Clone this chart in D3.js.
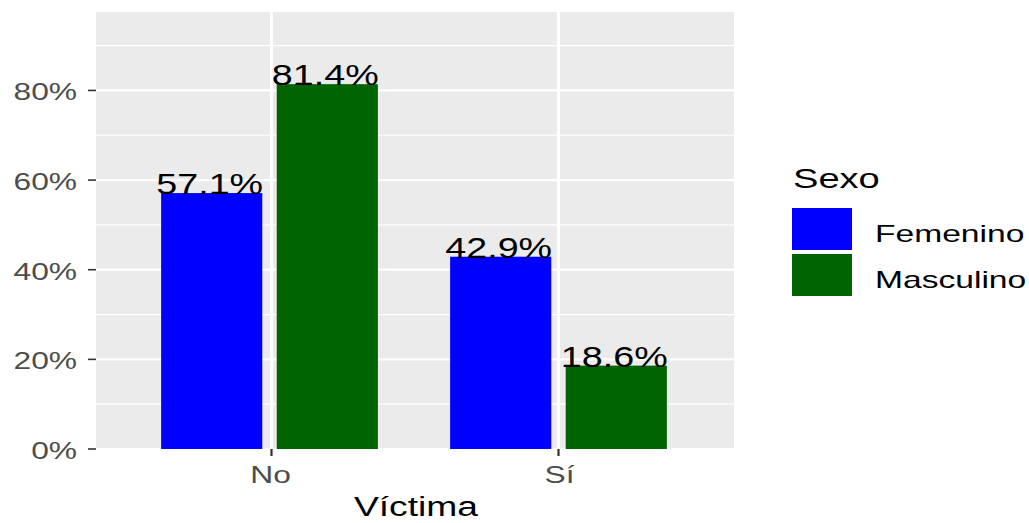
<!DOCTYPE html>
<html>
<head>
<meta charset="utf-8">
<script src="https://cdn.jsdelivr.net/npm/d3@7"></script>
<style>
  body { margin: 0; background: #fff; }
  text { font-family: "Liberation Sans", Arial, sans-serif; }
</style>
</head>
<body>
<div id="chart"></div>
<script>
// data
var categories = ["No", "Sí"];
var groups = ["Femenino", "Masculino"];
var femenino = [0.571, 0.429];
var masculino = [0.814, 0.186];
var labels = [["57.1%", "42.9%"], ["81.4%", "18.6%"]];
var yTicks = [0, 0.2, 0.4, 0.6, 0.8];
var yMinor = [0.1, 0.3, 0.5, 0.7, 0.9];
var colors = ["#0000ff", "#006400"];

var svgWidth = 1029, svgHeight = 523;
var panel = {left: 96, right: 734, top: 12, bottom: 449};
var stretch = 1.38; // the picture is wider than tall

var svg = d3.select("#chart")
  .append("svg")
  .attr("width", svgWidth)
  .attr("height", svgHeight);

var yScale = d3.scaleLinear()
  .domain([0, 0.975])
  .range([panel.bottom, panel.top]);

// category index -> pixel
var xScale = d3.scaleLinear()
  .domain([1, 2])
  .range([269.5, 558.5]);
var unit = xScale(2) - xScale(1);

// grey panel
svg.append("rect")
  .attr("x", panel.left).attr("y", panel.top)
  .attr("width", panel.right - panel.left)
  .attr("height", panel.bottom - panel.top)
  .attr("fill", "#ebebeb");

// grid
svg.selectAll(".minor").data(yMinor).enter()
  .append("line")
  .attr("x1", panel.left).attr("x2", panel.right)
  .attr("y1", d => yScale(d)).attr("y2", d => yScale(d))
  .attr("stroke", "#fff").attr("stroke-width", 1.2);
svg.selectAll(".major").data(yTicks).enter()
  .append("line")
  .attr("x1", panel.left).attr("x2", panel.right)
  .attr("y1", d => yScale(d)).attr("y2", d => yScale(d))
  .attr("stroke", "#fff").attr("stroke-width", 2.2);
svg.selectAll(".vgrid").data(categories).enter()
  .append("line")
  .attr("x1", (d, i) => xScale(i + 1) + (i === 0 ? 2 : 0)).attr("x2", (d, i) => xScale(i + 1) + (i === 0 ? 2 : 0))
  .attr("y1", panel.top).attr("y2", panel.bottom)
  .attr("stroke", "#fff").attr("stroke-width", 3);

// bars
var series = [femenino, masculino];
var barW = 0.35 * unit;
series.forEach(function(vals, s) {
  var off = (s === 0 ? -0.2 : 0.2) * unit;
  svg.selectAll(".bar" + s).data(vals).enter()
    .append("rect")
    .attr("x", (d, i) => xScale(i + 1) + off - barW / 2)
    .attr("y", d => yScale(d))
    .attr("width", barW)
    .attr("height", d => yScale(0) - yScale(d))
    .attr("fill", colors[s]);
  svg.selectAll(".lab" + s).data(vals).enter()
    .append("text")
    .attr("transform", (d, i) => "translate(" + (xScale(i + 1) + off - 2) + "," + (yScale(d) + 1) + ") scale(1.3,1)")
    .attr("text-anchor", "middle")
    .attr("font-size", 29)
    .attr("fill", "#000")
    .text((d, i) => labels[s][i]);
});

// y axis ticks + labels
var yAx = svg.append("g");
yAx.selectAll("line").data(yTicks).enter()
  .append("line")
  .attr("x1", panel.left - 8).attr("x2", panel.left)
  .attr("y1", d => yScale(d)).attr("y2", d => yScale(d))
  .attr("stroke", "#333").attr("stroke-width", 1.6);
yAx.selectAll("text").data(yTicks).enter()
  .append("text")
  .attr("transform", d => "translate(77," + (yScale(d) + 10) + ") scale(" + stretch + ",1)")
  .attr("text-anchor", "end")
  .attr("font-size", 23)
  .attr("fill", "#4d4d4d")
  .text(d => d3.format(".0%")(d));

// x axis ticks + labels
var xAx = svg.append("g");
xAx.selectAll("line").data(categories).enter()
  .append("line")
  .attr("x1", (d, i) => xScale(i + 1) + (i === 0 ? 2 : 0)).attr("x2", (d, i) => xScale(i + 1) + (i === 0 ? 2 : 0))
  .attr("y1", panel.bottom).attr("y2", panel.bottom + 7)
  .attr("stroke", "#333").attr("stroke-width", 2.2);
xAx.selectAll("text").data(categories).enter()
  .append("text")
  .attr("transform", (d, i) => "translate(" + (xScale(i + 1) + 1) + ",483) scale(" + stretch + ",1)")
  .attr("text-anchor", "middle")
  .attr("font-size", 23)
  .attr("fill", "#4d4d4d")
  .text(d => d);

// axis title
svg.append("text")
  .attr("transform", "translate(" + ((panel.left + panel.right) / 2 + 1) + ",516) scale(1.33,1)")
  .attr("text-anchor", "middle")
  .attr("font-size", 28)
  .attr("fill", "#000")
  .text("Víctima");

// legend
var legend = svg.append("g");
legend.append("text")
  .attr("transform", "translate(793,188) scale(1.36,1)")
  .attr("font-size", 28)
  .attr("fill", "#000")
  .text("Sexo");
var keys = legend.selectAll(".key").data(groups).enter()
  .append("g")
  .attr("transform", (d, i) => "translate(792," + (208 + i * 46) + ")");
keys.append("rect")
  .attr("width", 60).attr("height", 42)
  .attr("fill", (d, i) => colors[i]);
keys.append("text")
  .attr("transform", "translate(83,34) scale(1.4,1)")
  .attr("font-size", 24)
  .attr("fill", "#000")
  .text(d => d);
</script>
</body>
</html>
